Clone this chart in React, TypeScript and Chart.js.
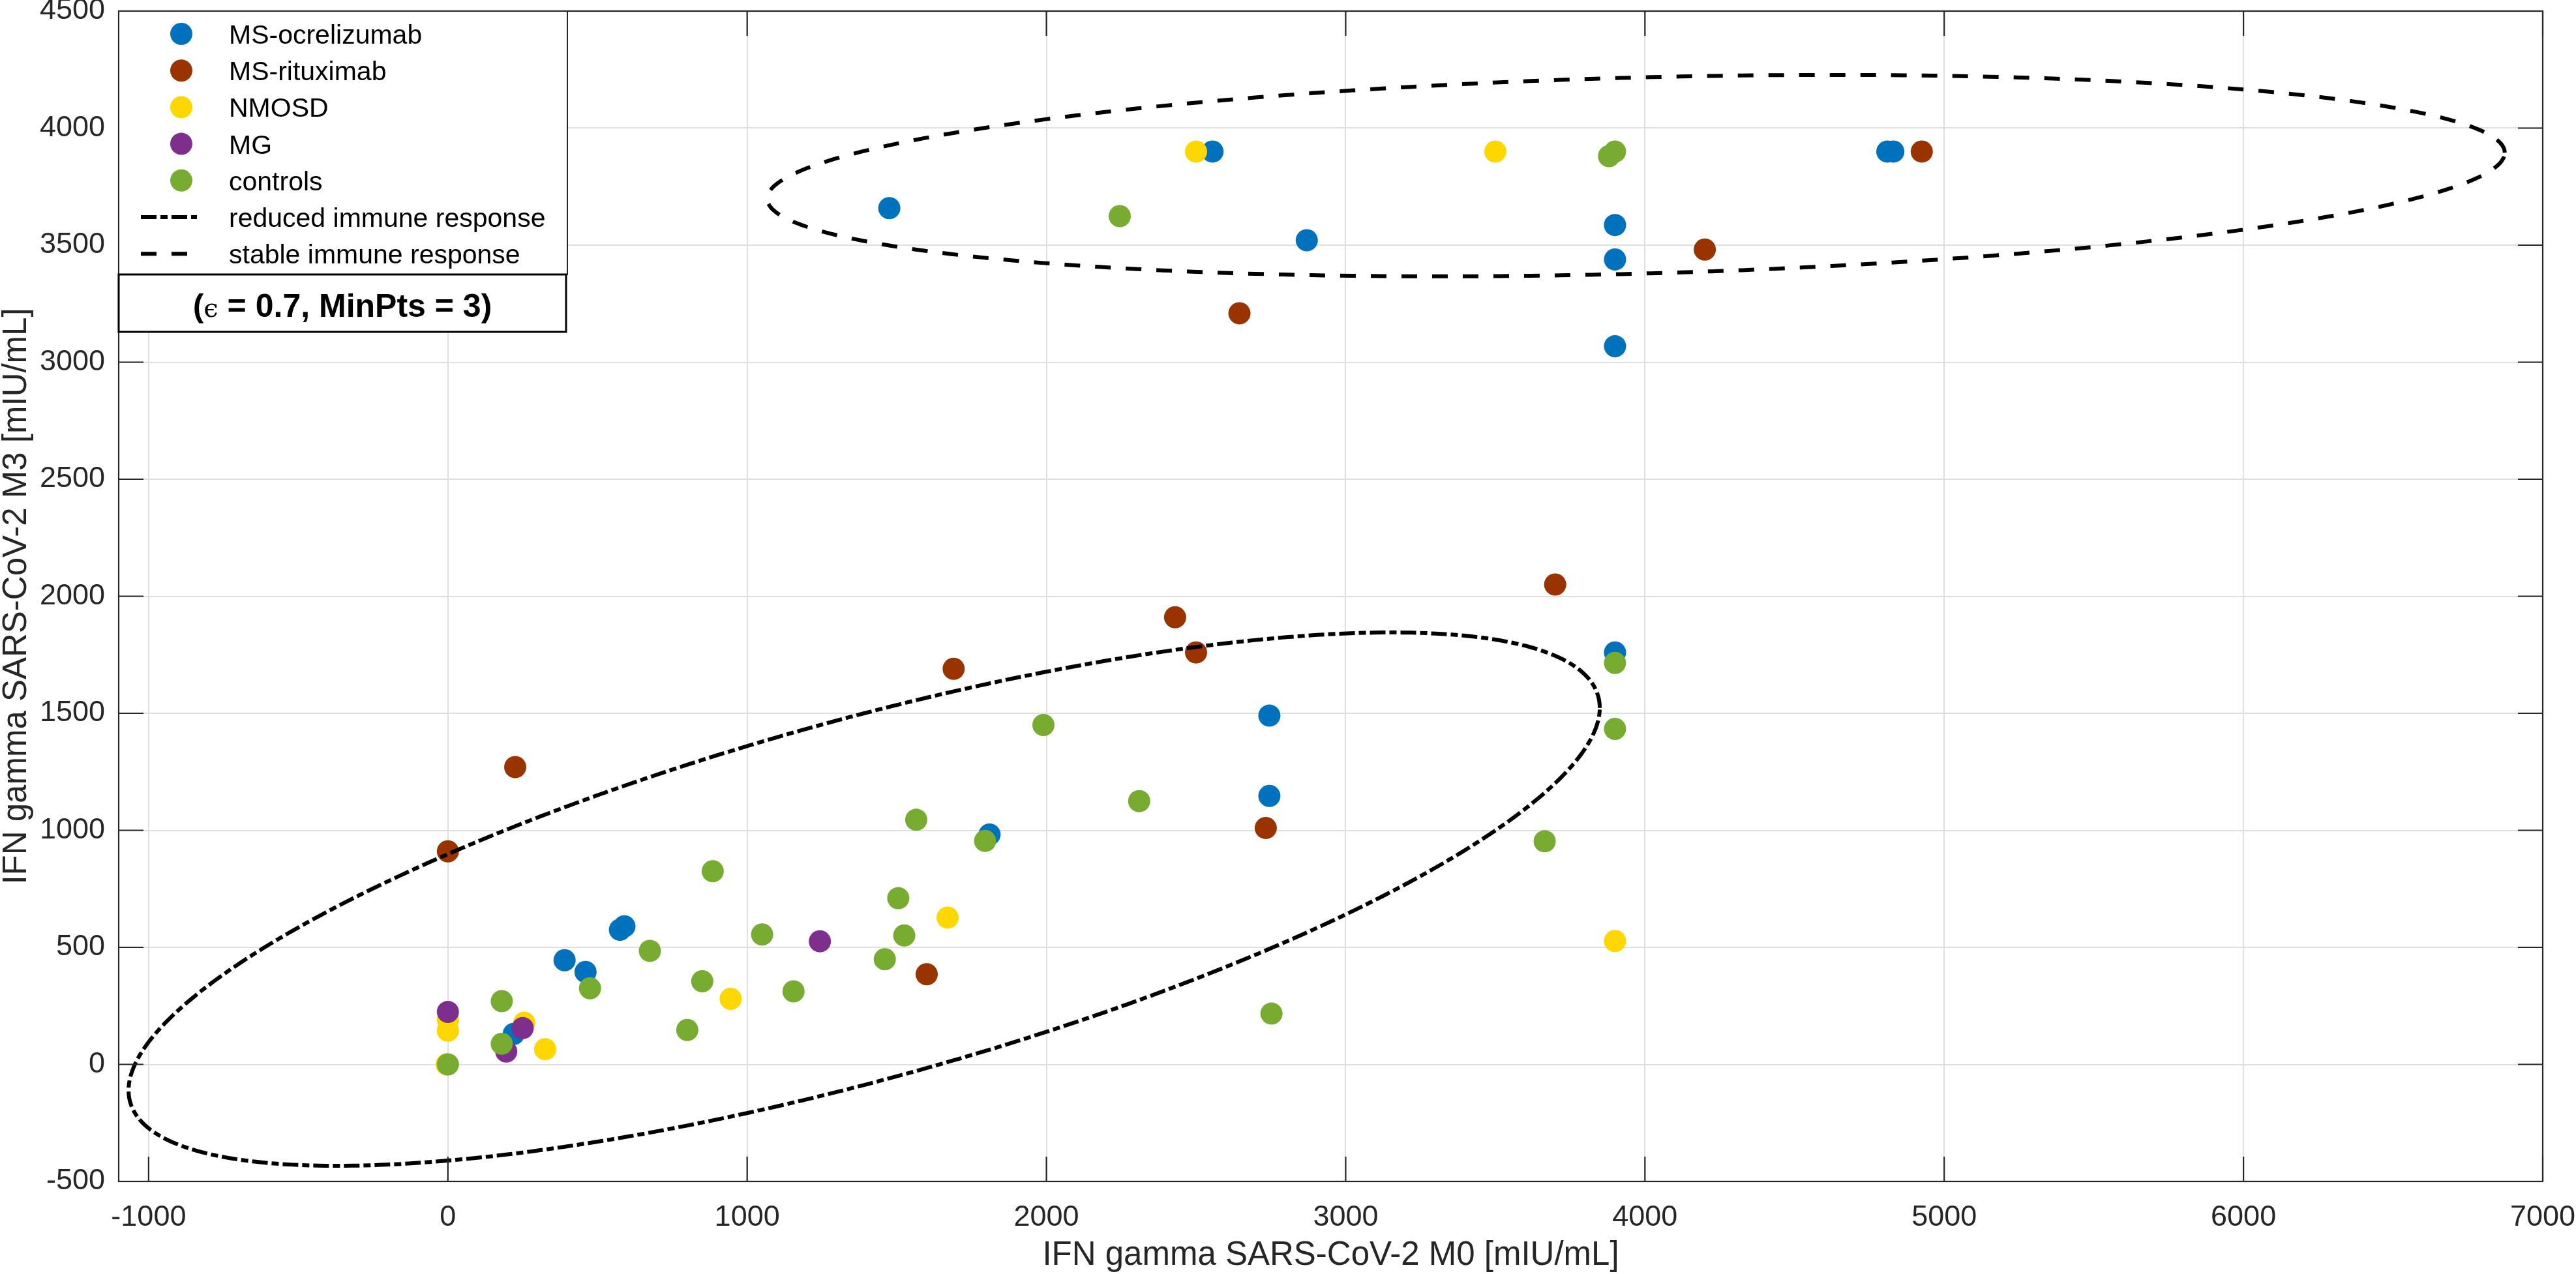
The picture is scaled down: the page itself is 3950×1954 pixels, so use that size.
import { useEffect, useRef } from 'react';
import { Chart, registerables } from 'chart.js';
import type { ChartConfiguration, Plugin } from 'chart.js';

Chart.register(...registerables);

const WIDTH = 3950;
const HEIGHT = 1954;
const FONT = "'Liberation Sans', Arial, Helvetica, sans-serif";
const TEXT = '#262626';
const GRID = '#dfdfdf';

// IFN gamma M0 / M3 values per group [mIU/mL]
const ocrelizumab: Array<[number, number]> = [
  [220, 130], [390, 445], [460, 395], [575, 575], [590, 590],
  [1475, 3658], [1810, 982], [2555, 3900], [2745, 1147], [2745, 1490],
  [2870, 3521], [3900, 1760], [3900, 3068], [3900, 3439], [3900, 3586],
  [4810, 3900], [4830, 3900],
];
const rituximab: Array<[number, number]> = [
  [0, 910], [225, 1270], [1600, 385], [1690, 1690], [2430, 1910],
  [2500, 1760], [2645, 3209], [2733, 1010], [3700, 2050], [4200, 3481],
  [4925, 3900],
];
const nmosd: Array<[number, number]> = [
  [-4, 0], [0, 144], [0, 190], [255, 178], [325, 65], [945, 280],
  [1670, 627], [2500, 3900], [3500, 3900], [3900, 527],
];
const mg: Array<[number, number]> = [[0, 224], [195, 55], [250, 155], [1243, 526]];
const controls: Array<[number, number]> = [
  [0, 0], [180, 88], [180, 270], [475, 325], [675, 485], [800, 147],
  [850, 355], [885, 825], [1050, 555], [1155, 312], [1460, 449], [1505, 710],
  [1525, 551], [1565, 1045], [1795, 955], [1990, 1450], [2245, 3624], [2310, 1125],
  [2752, 217], [3665, 953], [3880, 3880], [3900, 1433], [3900, 1715], [3900, 3900],
];

// cluster ellipses: centre and two conjugate semi-diameters (data units)
const reducedCenter = [1391, 706];
const reducedU = [2458, 817];
const reducedV = [0, 794];
const stableCenter = [3970, 3797];
const stableU = [2903, 98];
const stableV = [0, 419];

const xTicks = [-1000, 0, 1000, 2000, 3000, 4000, 5000, 6000, 7000];
const yTicks = [-500, 0, 500, 1000, 1500, 2000, 2500, 3000, 3500, 4000, 4500];

const toPoints = (rows: Array<[number, number]>) => rows.map(([x, y]) => ({ x, y }));

function ellipse(c: number[], u: number[], v: number[], steps = 360) {
  const pts = [];
  for (let i = 0; i <= steps; i++) {
    const t = (i / steps) * Math.PI * 2;
    pts.push({
      x: c[0] + u[0] * Math.cos(t) + v[0] * Math.sin(t),
      y: c[1] + u[1] * Math.cos(t) + v[1] * Math.sin(t),
    });
  }
  return pts;
}

const markerSet = (label: string, color: string, rows: Array<[number, number]>, order: number) => ({
  label,
  data: toPoints(rows),
  backgroundColor: color,
  borderWidth: 0,
  pointRadius: 17,
  pointHoverRadius: 17,
  order,
});

// box, inward ticks and the legend (drawn on top like MATLAB)
const matlabFrame: Plugin<'scatter'> = {
  id: 'matlabFrame',
  afterDraw(chart) {
    const { ctx, chartArea: a, scales } = chart;
    ctx.save();

    ctx.strokeStyle = TEXT;
    ctx.lineWidth = 2.2;
    ctx.beginPath();
    for (const v of xTicks) {
      const px = scales.x.getPixelForValue(v);
      ctx.moveTo(px, a.bottom);
      ctx.lineTo(px, a.bottom - 38);
      ctx.moveTo(px, a.top);
      ctx.lineTo(px, a.top + 38);
    }
    for (const v of yTicks) {
      const py = scales.y.getPixelForValue(v);
      ctx.moveTo(a.left, py);
      ctx.lineTo(a.left + 38, py);
      ctx.moveTo(a.right, py);
      ctx.lineTo(a.right - 38, py);
    }
    ctx.stroke();
    ctx.strokeRect(a.left, a.top, a.right - a.left, a.bottom - a.top);

    // legend box
    const lx = a.left;
    const ly = a.top;
    const lw = 688;
    const lh = 404;
    ctx.fillStyle = '#ffffff';
    ctx.fillRect(lx, ly, lw, lh);
    ctx.lineWidth = 2;
    ctx.strokeStyle = TEXT;
    ctx.strokeRect(lx, ly, lw, lh);

    ctx.font = `41px ${FONT}`;
    ctx.textAlign = 'left';
    ctx.textBaseline = 'alphabetic';
    chart.data.datasets.forEach((ds: any, i) => {
      const rowY = ly + 35 + i * 56.2;
      if (ds.showLine) {
        ctx.save();
        ctx.strokeStyle = ds.borderColor;
        ctx.lineWidth = ds.borderWidth;
        ctx.setLineDash(ds.borderDash || []);
        ctx.beginPath();
        ctx.moveTo(lx + 34, rowY);
        ctx.lineTo(lx + 120, rowY);
        ctx.stroke();
        ctx.restore();
      } else {
        ctx.fillStyle = ds.backgroundColor;
        ctx.beginPath();
        ctx.arc(lx + 96, rowY, 17, 0, Math.PI * 2);
        ctx.fill();
      }
      ctx.fillStyle = '#000000';
      ctx.fillText(ds.label, lx + 169, rowY + 15);
    });

    // DBSCAN parameter box under the legend
    const by = ly + lh;
    const bh = 88;
    ctx.fillStyle = '#ffffff';
    ctx.fillRect(lx, by, lw - 2, bh);
    ctx.lineWidth = 3;
    ctx.strokeStyle = '#000000';
    ctx.strokeRect(lx, by, lw - 2, bh);

    const parts = [
      { t: '(', f: `bold 50px ${FONT}` },
      { t: 'ϵ', f: `40px 'DejaVu Serif', serif` },
      { t: ' = 0.7, MinPts = 3)', f: `bold 50px ${FONT}` },
    ];
    let total = 0;
    const widths = parts.map((p) => {
      ctx.font = p.f;
      const w = ctx.measureText(p.t).width;
      total += w;
      return w;
    });
    let tx = lx + (lw - 2) / 2 - total / 2;
    ctx.fillStyle = '#000000';
    parts.forEach((p, i) => {
      ctx.font = p.f;
      ctx.fillText(p.t, tx, by + 65);
      tx += widths[i];
    });

    ctx.restore();
  },
};

const config: ChartConfiguration<'scatter'> = {
  type: 'scatter',
  data: {
    datasets: [
      markerSet('MS-ocrelizumab', '#0072BD', ocrelizumab, 6),
      markerSet('MS-rituximab', '#993300', rituximab, 5),
      markerSet('NMOSD', '#FFD700', nmosd, 4),
      markerSet('MG', '#7E2F8E', mg, 3),
      markerSet('controls', '#77AC30', controls, 2),
      {
        label: 'reduced immune response',
        data: ellipse(reducedCenter, reducedU, reducedV),
        showLine: true,
        borderColor: '#000000',
        borderWidth: 6,
        borderDash: [24, 6, 11, 6],
        pointRadius: 0,
        order: 1,
      },
      {
        label: 'stable immune response',
        data: ellipse(stableCenter, stableU, stableV),
        showLine: true,
        borderColor: '#000000',
        borderWidth: 6,
        borderDash: [24, 23],
        pointRadius: 0,
        order: 0,
      },
    ],
  },
  options: {
    responsive: false,
    animation: false,
    devicePixelRatio: 1,
    events: [],
    layout: { padding: { top: 16, right: 51, left: 0, bottom: 0 } },
    plugins: {
      legend: { display: false },
      tooltip: { enabled: false },
    },
    scales: {
      x: {
        type: 'linear',
        min: -1100,
        max: 7000,
        afterBuildTicks: (s) => {
          s.ticks = xTicks.map((value) => ({ value }));
        },
        afterFit: (s: any) => {
          s.height = 142;
          s.paddingLeft = 0;
          s.paddingRight = 0;
        },
        grid: { color: GRID, lineWidth: 2, drawTicks: false },
        border: { display: false },
        ticks: {
          color: TEXT,
          font: { family: FONT, size: 45 },
          padding: 29,
          maxRotation: 0,
          autoSkip: false,
          callback: (v) => String(v),
        },
        title: {
          display: true,
          text: 'IFN gamma SARS-CoV-2 M0 [mIU/mL]',
          color: TEXT,
          font: { family: FONT, size: 51, lineHeight: 1 },
          padding: { top: 0, bottom: 3 },
        },
      },
      y: {
        type: 'linear',
        min: -500,
        max: 4500,
        afterBuildTicks: (s) => {
          s.ticks = yTicks.map((value) => ({ value }));
        },
        afterFit: (s: any) => {
          s.width = 182;
          s.paddingTop = 0;
          s.paddingBottom = 0;
        },
        grid: { color: GRID, lineWidth: 2, drawTicks: false },
        border: { display: false },
        ticks: {
          color: TEXT,
          font: { family: FONT, size: 45 },
          padding: 21,
          autoSkip: false,
          callback: (v) => String(v),
        },
        title: {
          display: true,
          text: 'IFN gamma SARS-CoV-2 M3 [mIU/mL]',
          color: TEXT,
          font: { family: FONT, size: 51, lineHeight: 1 },
          padding: { top: 0, bottom: 0 },
        },
      },
    },
  },
  plugins: [matlabFrame],
};

export default function App() {
  const canvasRef = useRef<HTMLCanvasElement>(null);

  useEffect(() => {
    document.body.style.margin = '0';
    if (!canvasRef.current) return;
    const chart = new Chart(canvasRef.current, config);
    return () => {
      chart.destroy();
    };
  }, []);

  return (
    <canvas
      ref={canvasRef}
      width={WIDTH}
      height={HEIGHT}
      style={{ display: 'block', width: WIDTH, height: HEIGHT }}
    />
  );
}
